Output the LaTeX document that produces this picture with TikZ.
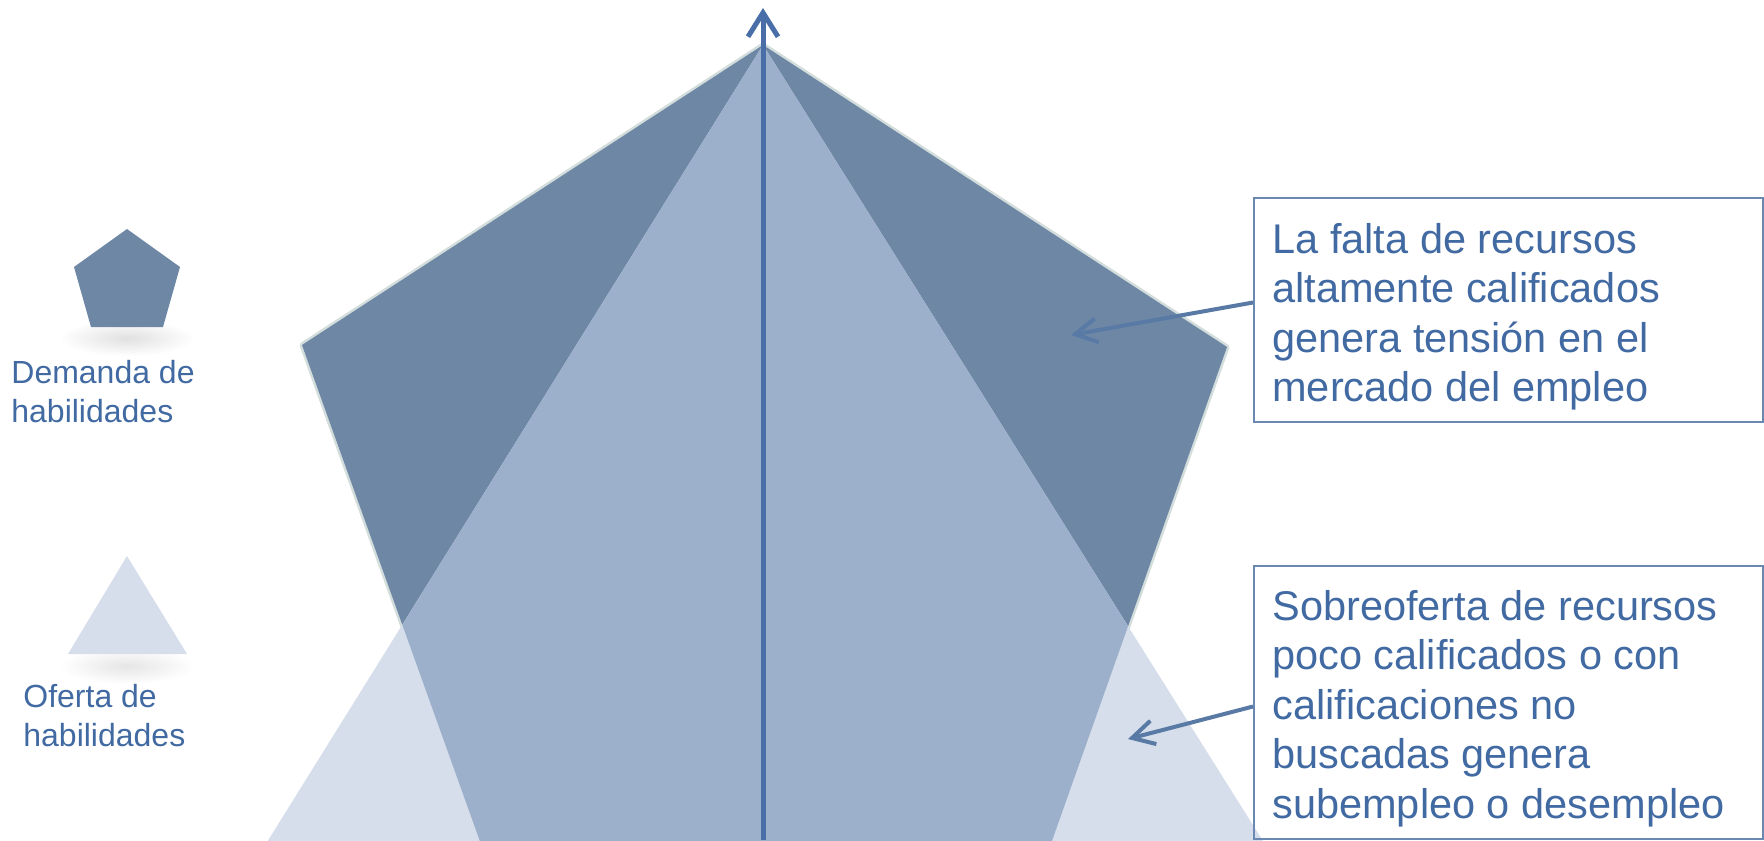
\documentclass[tikz,border=0pt]{standalone}
\usepackage{fontspec}
\setmainfont{Liberation Sans}
\usetikzlibrary{arrows.meta,calc}
\definecolor{penta}{HTML}{6D87A5}
\definecolor{mid}{HTML}{9CB0CB}
\definecolor{lite}{HTML}{D5DEEA}
\definecolor{txt}{HTML}{4169A2}
\definecolor{axisc}{HTML}{4A6FA8}
\definecolor{callc}{HTML}{5A7AA6}
\definecolor{boxc}{HTML}{6A88B2}
\definecolor{glow}{HTML}{6E8E8C}
\begin{document}
\begin{tikzpicture}[x=0.5pt,y=-0.5pt,
  legendtxt/.style={anchor=north west, inner sep=0pt, align=left, text=txt,
    font=\fontsize{16}{19.5}\selectfont},
  boxtxt/.style={anchor=north west, inner sep=0pt, align=left, text=txt,
    font=\fontsize{20.75}{24.75}\selectfont},
  boxst/.style={draw=boxc, line width=1pt, inner sep=0pt, anchor=north west, minimum width=254.5pt},
  callout/.style={draw=callc, line width=2pt, -{Straight Barb[length=11pt,width=12pt]}},
  axisline/.style={draw=axisc, line width=2.5pt, -{Straight Barb[length=12pt,width=15pt]}}
]
\useasboundingbox (0,0) rectangle (1764,840);
% big shapes
\begin{scope}
  \clip (0,0) rectangle (1764,840);
  \draw[glow, line width=2.5pt, opacity=0.3, line join=round] (763,45) -- (1227,347) -- (1031,900) -- (501,900) -- (302,345) -- cycle;
  \fill[penta] (763,45) -- (1227,347) -- (1031,900) -- (501,900) -- (302,345) -- cycle;
  \fill[lite] (763,45) -- (1300,900) -- (231,900) -- cycle;
  \begin{scope}
    \clip (763,45) -- (1227,347) -- (1031,900) -- (501,900) -- (302,345) -- cycle;
    \fill[mid] (763,45) -- (1300,900) -- (231,900) -- cycle;
  \end{scope}
\end{scope}
% vertical axis
\coordinate (axbot) at (763,840);
\coordinate (axtop) at (763,8);
\draw[axisline] (axbot) -- (axtop);
% legend
\shade[inner color=black!12, outer color=white] (127,338) ellipse [x radius=34pt, y radius=9pt];
\fill[penta] (127,229) -- (180,267) -- (163,327) -- (91,327) -- (74,267) -- cycle;
\node[legendtxt] (dem) at (11,360) {Demanda de\\habilidades};
\shade[inner color=black!10, outer color=white] (127,666) ellipse [x radius=34pt, y radius=9pt];
\fill[lite] (127,556) -- (187,654) -- (68,654) -- cycle;
\node[legendtxt] (ofe) at (23,684) {Oferta de\\habilidades};
% boxes
\node[boxst, minimum height=112pt] (box1) at (1253,197) {};
\node[boxtxt] (t1) at (1272,223) {La falta de recursos\\altamente calificados\\genera tensión en el\\mercado del empleo};
\node[boxst, minimum height=136.5pt] (box2) at (1253,565) {};
\node[boxtxt] (t2) at (1272,590) {Sobreoferta de recursos\\poco calificados o con\\calificaciones no\\buscadas genera\\subempleo o desempleo};
% callouts
\coordinate (tip1) at (1071,335);
\coordinate (tip2) at (1128,739);
\draw[callout] ([yshift=3.75pt]box1.west) -- (tip1);
\draw[callout] ([yshift=-2pt]box2.west) -- (tip2);
\end{tikzpicture}
\end{document}
